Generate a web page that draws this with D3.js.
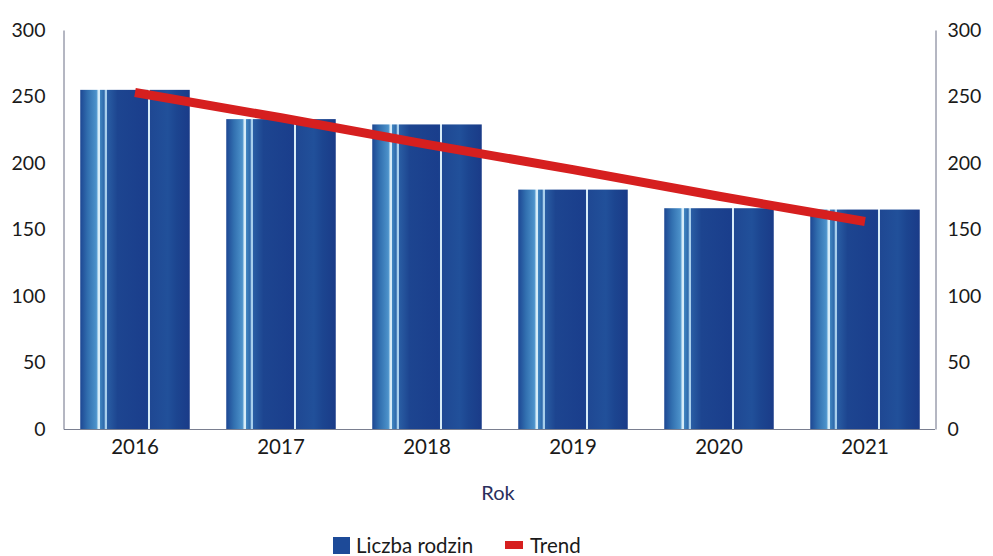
<!DOCTYPE html>
<html>
<head>
<meta charset="utf-8">
<script src="https://cdn.jsdelivr.net/npm/d3@7"></script>
<style>
  html, body { margin: 0; padding: 0; background: #ffffff; }
  svg { display: block; }
  text { font-family: Lato, "Open Sans", sans-serif; }
</style>
</head>
<body>
<svg id="chart" width="993" height="556"></svg>
<script>
const years = ["2016", "2017", "2018", "2019", "2020", "2021"];
const liczbaRodzin = [255, 233, 229, 180, 166, 165];
const trend = [253, 234, 214, 195, 175, 156];
const yTicks = [0, 50, 100, 150, 200, 250, 300];
const seriesNames = ["Liczba rodzin", "Trend"];
const axisTitle = "Rok";

const svg = d3.select("#chart");
const margin = { left: 64, right: 58, top: 30, bottom: 127 };
const W = 993, H = 556;
const x = d3.scaleBand().domain(years).range([62, 938]).padding(0);
const y = d3.scaleLinear().domain([0, 300]).range([H - margin.bottom, margin.top]);

// gradient for striped bars
const defs = svg.append("defs");
const g = defs.append("linearGradient").attr("id", "barGrad")
  .attr("x1", "0%").attr("x2", "100%").attr("y1", "0%").attr("y2", "0%");
const stops = [
  [0, "#1d4793"], [0.07, "#3270b0"], [0.14, "#4a8fc8"], [0.155, "#5a9ed2"],
  [0.16, "#d6ecf8"], [0.18, "#d6ecf8"], [0.185, "#3f83bf"], [0.22, "#2d68aa"],
  [0.225, "#a8cfec"], [0.24, "#a8cfec"], [0.245, "#2a5ea4"], [0.34, "#1d4590"],
  [0.6, "#1a3e8c"], [0.615, "#1b418e"], [0.62, "#d8ecf8"], [0.635, "#d8ecf8"],
  [0.64, "#1f4893"], [0.8, "#21509a"], [0.88, "#1c4590"], [1, "#1a3b88"]
];
stops.forEach(s => g.append("stop").attr("offset", s[0]).attr("stop-color", s[1]));

// baseline
svg.append("line")
  .attr("x1", margin.left).attr("x2", W - margin.right)
  .attr("y1", y(0) + 0.5).attr("y2", y(0) + 0.5)
  .attr("stroke", "#7a7f90").attr("stroke-width", 1);

// bars
const bw = x.bandwidth() * 0.75;
svg.append("g").selectAll("rect").data(years).join("rect")
  .attr("x", d => x(d) + x.bandwidth() / 2 - bw / 2)
  .attr("width", bw)
  .attr("y", (d, i) => y(liczbaRodzin[i]))
  .attr("height", (d, i) => y(0) - y(liczbaRodzin[i]))
  .attr("fill", "url(#barGrad)");

const fs = 19.5;
// left axis
const leftAxis = d3.axisLeft(y).tickValues(yTicks).tickSize(0).tickPadding(18);
const la = svg.append("g").attr("transform", `translate(${margin.left - 0.5},0)`).call(leftAxis);
la.select(".domain").attr("stroke", "#6a6f85");
la.selectAll("text").attr("font-size", fs).attr("fill", "#1a1a1a").attr("font-family", "Lato, sans-serif");

// right axis
const rightAxis = d3.axisRight(y).tickValues(yTicks).tickSize(0).tickPadding(12);
const ra = svg.append("g").attr("transform", `translate(${W - margin.right + 0.5},0)`).call(rightAxis);
ra.select(".domain").attr("stroke", "#6a6f85");
ra.selectAll("text").attr("font-size", fs).attr("fill", "#1a1a1a").attr("font-family", "Lato, sans-serif");

// x labels
const xa = svg.append("g").attr("transform", `translate(0,${y(0)})`)
  .call(d3.axisBottom(x).tickSize(0).tickPadding(10));
xa.select(".domain").remove();
xa.selectAll("text").attr("font-size", 20.5).attr("fill", "#1a1a1a").attr("font-family", "Lato, sans-serif");

// trend line
const line = d3.line().x((d, i) => x(years[i]) + x.bandwidth() / 2).y(d => y(d));
svg.append("path").datum(trend)
  .attr("d", line)
  .attr("fill", "none")
  .attr("stroke", "#d61f1f")
  .attr("stroke-width", 9);

// axis title
svg.append("text").attr("x", 498).attr("y", 500).attr("text-anchor", "middle")
  .attr("font-size", 20).attr("fill", "#2a2f5c").text(axisTitle);

// legend
const lg = svg.append("g");
lg.append("rect").attr("x", 333).attr("y", 537).attr("width", 17).attr("height", 17).attr("fill", "#1d4a98");
lg.append("text").attr("x", 356).attr("y", 553).attr("font-size", 20.5).attr("fill", "#1a1a1a").text(seriesNames[0]);
lg.append("rect").attr("x", 505).attr("y", 541).attr("width", 18).attr("height", 8).attr("fill", "#d61f1f");
lg.append("text").attr("x", 530).attr("y", 553).attr("font-size", 20.5).attr("fill", "#1a1a1a").text(seriesNames[1]);
</script>
</body>
</html>
